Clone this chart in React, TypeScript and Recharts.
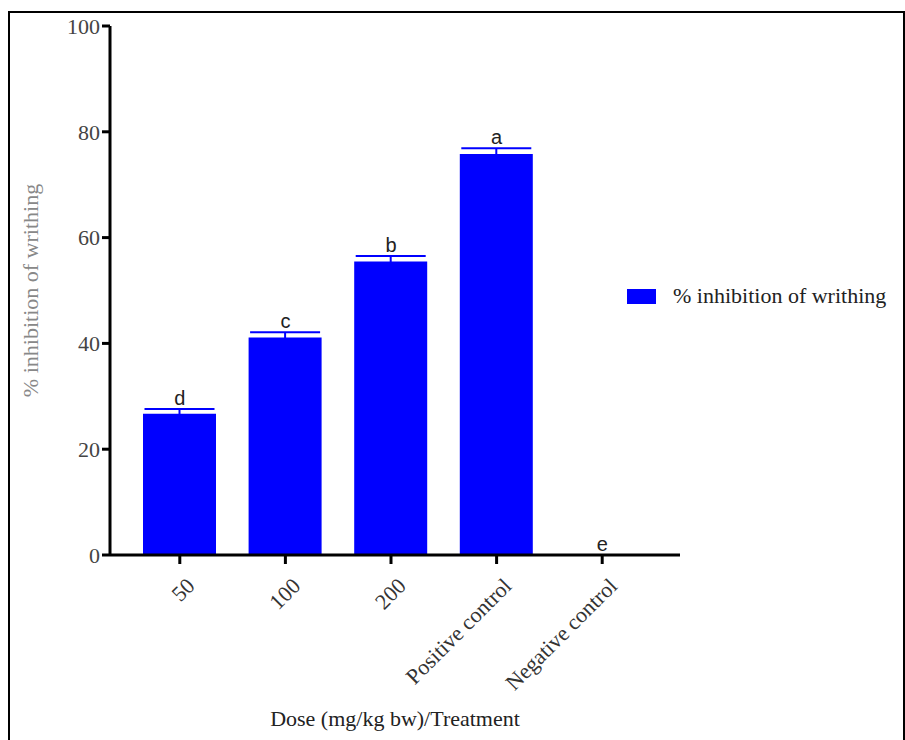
import { ComposedChart, Bar, Line, XAxis, YAxis, ErrorBar, LabelList } from 'recharts';

const categories = ['50', '100', '200', 'Positive control', 'Negative control'];
const inhibition = [26.7, 41.1, 55.5, 75.8, 0];
const sem = [0.9, 1.0, 1.0, 1.1, null];
const letters = ['d', 'c', 'b', 'a', 'e'];
const yTicks = [0, 20, 40, 60, 80, 100];

const data = categories.map((name, i) => ({
    name,
    value: inhibition[i],
    err: sem[i],
    top: inhibition[i] + (sem[i] ?? 0),
    sig: letters[i],
}));

const serif = '"Liberation Serif", "Times New Roman", serif';
const sans = '"Liberation Sans", Arial, sans-serif';

function XTick({ x, y, payload }: any) {
    return (
        <text
            x={x + 5}
            y={y + 10}
            textAnchor="end"
            transform={`rotate(-45, ${x + 5}, ${y + 10})`}
            fontFamily={serif}
            fontSize={22}
            fill="#333"
            dominantBaseline="hanging"
        >
            {payload.value}
        </text>
    );
}

export default function App() {
    return (
        <div style={{ position: 'absolute', left: 0, top: 0, width: 905, height: 740, background: '#fff' }}>
            <div style={{
                position: 'absolute', left: 8, top: 11, width: 893, height: 740,
                borderLeft: '2px solid #000', borderTop: '2px solid #000', borderRight: '2px solid #000',
            }} />
            <div style={{ position: 'absolute', left: 0, top: 0 }}>
                <ComposedChart width={905} height={740} data={data} margin={{ top: 26, right: 225, left: 0, bottom: 0 }}>
                    <XAxis
                        dataKey="name"
                        padding={{ left: 17, right: 25 }}
                        axisLine={{ stroke: '#000', strokeWidth: 3 }}
                        tickLine={{ stroke: '#000', strokeWidth: 3 }}
                        tickSize={9}
                        tick={<XTick />}
                        interval={0}
                        height={185}
                        label={{ value: 'Dose (mg/kg bw)/Treatment', position: 'insideBottom', offset: 14, fontFamily: serif, fontSize: 22, fill: '#222' }}
                    />
                    <YAxis
                        domain={[0, 100]}
                        ticks={yTicks}
                        width={110}
                        axisLine={{ stroke: '#000', strokeWidth: 3 }}
                        tickLine={{ stroke: '#000', strokeWidth: 3 }}
                        tickSize={8}
                        tick={{ fontFamily: serif, fontSize: 22, fill: '#444' }}
                        label={{ value: '% inhibition of writhing', angle: -90, position: 'insideLeft', offset: 30, fontFamily: serif, fontSize: 22, fill: '#888', style: { textAnchor: 'middle' } }}
                    />
                    <Bar dataKey="value" fill="#0000ff" barSize={73} isAnimationActive={false}>
                        <ErrorBar dataKey="err" width={35} stroke="#0000ff" strokeWidth={2} direction="y" />
                    </Bar>
                    <Line dataKey="top" stroke="none" dot={false} activeDot={false} isAnimationActive={false}>
                        <LabelList dataKey="sig" position="top" offset={4} fontFamily={sans} fontSize={20} fill="#222" />
                    </Line>
                </ComposedChart>
            </div>
            <div style={{
                position: 'absolute', left: 627, top: 283, display: 'flex', alignItems: 'center',
                fontFamily: serif, fontSize: 22, color: '#222', whiteSpace: 'nowrap',
            }}>
                <span style={{ display: 'inline-block', width: 29, height: 15, background: '#0000ff', marginRight: 17 }} />
                % inhibition of writhing
            </div>
        </div>
    );
}
